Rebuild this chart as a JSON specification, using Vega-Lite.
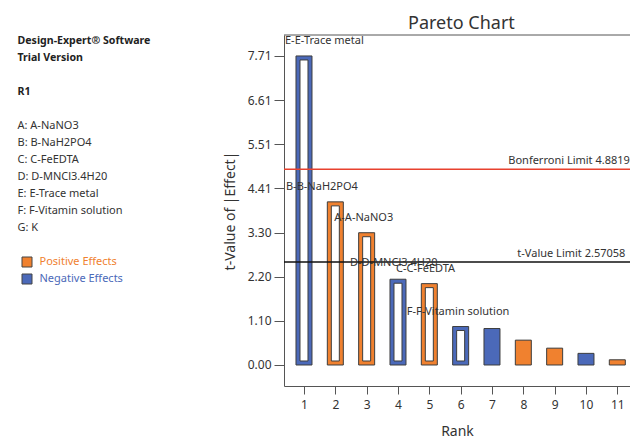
{
  "$schema": "https://vega.github.io/schema/vega-lite/v6.json",
  "padding": {"top": 14, "left": 0, "right": 0, "bottom": 0},
  "title": {"text": "Pareto Chart", "anchor": "start", "dx": 408, "fontSize": 18, "font": "Noto Sans", "fontWeight": "normal", "color": "#333333", "offset": 2},
  "spacing": 0,
  "config": {"font": "Noto Sans", "view": {"stroke": null}, "axis": {"grid": false}},
  "resolve": {"scale": {"x": "independent", "y": "independent", "color": "independent", "fill": "independent"}},
  "datasets": {
    "notes": [
      {"line": 0, "text": "Design-Expert® Software", "kind": "head"},
      {"line": 1, "text": "Trial Version", "kind": "head"},
      {"line": 3, "text": "R1", "kind": "head"},
      {"line": 5, "text": "A: A-NaNO3", "kind": "factor"},
      {"line": 6, "text": "B: B-NaH2PO4", "kind": "factor"},
      {"line": 7, "text": "C: C-FeEDTA", "kind": "factor"},
      {"line": 8, "text": "D: D-MNCl3.4H20", "kind": "factor"},
      {"line": 9, "text": "E: E-Trace metal", "kind": "factor"},
      {"line": 10, "text": "F: F-Vitamin solution", "kind": "factor"},
      {"line": 11, "text": "G: K", "kind": "factor"}
    ],
    "legend": [
      {"line": 13, "text": "Positive Effects", "effect": "Positive"},
      {"line": 14, "text": "Negative Effects", "effect": "Negative"}
    ],
    "bars": [
      {"rank": 1, "t": 7.71, "effect": "Negative", "term": "E-E-Trace metal"},
      {"rank": 2, "t": 4.07, "effect": "Positive", "term": "B-B-NaH2PO4"},
      {"rank": 3, "t": 3.30, "effect": "Positive", "term": "A-A-NaNO3"},
      {"rank": 4, "t": 2.14, "effect": "Negative", "term": "D-D-MNCl3.4H20"},
      {"rank": 5, "t": 2.03, "effect": "Positive", "term": "C-C-FeEDTA"},
      {"rank": 6, "t": 0.96, "effect": "Negative", "term": "F-F-Vitamin solution"},
      {"rank": 7, "t": 0.91, "effect": "Negative", "term": null},
      {"rank": 8, "t": 0.62, "effect": "Positive", "term": null},
      {"rank": 9, "t": 0.42, "effect": "Positive", "term": null},
      {"rank": 10, "t": 0.29, "effect": "Negative", "term": null},
      {"rank": 11, "t": 0.13, "effect": "Positive", "term": null}
    ],
    "termLabels": [
      {"term": "E-E-Trace metal", "atRank": 0.394, "atT": 8.08},
      {"term": "B-B-NaH2PO4", "atRank": 0.425, "atT": 4.44},
      {"term": "A-A-NaNO3", "atRank": 1.967, "atT": 3.675},
      {"term": "D-D-MNCl3.4H20", "atRank": 2.468, "atT": 2.537},
      {"term": "C-C-FeEDTA", "atRank": 3.936, "atT": 2.395},
      {"term": "F-F-Vitamin solution", "atRank": 4.278, "atT": 1.33}
    ],
    "limits": [
      {"limit": "Bonferroni Limit", "value": 4.88198, "label": "Bonferroni Limit 4.88198", "atRank": 7.52},
      {"limit": "t-Value Limit", "value": 2.57058, "label": "t-Value Limit 2.57058", "atRank": 7.81}
    ]
  },
  "hconcat": [
    {
      "width": 223,
      "height": 351,
      "layer": [
        {
          "data": {"name": "notes"},
          "transform": [{"filter": "datum.kind == 'head'"}],
          "mark": {"type": "text", "align": "left", "baseline": "middle", "fontSize": 10.6, "fontWeight": "bold", "color": "#222222"},
          "encoding": {
            "x": {"datum": 0, "type": "quantitative", "scale": {"domain": [-1.75, 20.55], "nice": false, "zero": false}, "axis": null},
            "y": {"field": "line", "type": "quantitative", "scale": {"domain": [-0.353, 20.294], "reverse": true, "nice": false, "zero": false}, "axis": null},
            "text": {"field": "text"}
          }
        },
        {
          "data": {"name": "notes"},
          "transform": [{"filter": "datum.kind == 'factor'"}],
          "mark": {"type": "text", "align": "left", "baseline": "middle", "fontSize": 11, "color": "#333333"},
          "encoding": {
            "x": {"datum": 0, "type": "quantitative"},
            "y": {"field": "line", "type": "quantitative"},
            "text": {"field": "text"}
          }
        },
        {
          "data": {"name": "legend"},
          "mark": {"type": "square", "size": 100, "filled": true, "stroke": "#444444", "strokeWidth": 1, "opacity": 1},
          "encoding": {
            "x": {"datum": 0.95, "type": "quantitative"},
            "y": {"field": "line", "type": "quantitative"},
            "color": {"field": "effect", "type": "nominal", "scale": {"domain": ["Positive", "Negative"], "range": ["#f0812f", "#4b69b9"]}, "legend": null}
          }
        },
        {
          "data": {"name": "legend"},
          "mark": {"type": "text", "align": "left", "baseline": "middle", "fontSize": 11},
          "encoding": {
            "x": {"datum": 2.2, "type": "quantitative"},
            "y": {"field": "line", "type": "quantitative"},
            "text": {"field": "text"},
            "color": {"field": "effect", "type": "nominal", "scale": {"domain": ["Positive", "Negative"], "range": ["#f0883c", "#5b6fc5"]}, "legend": null}
          }
        }
      ]
    },
    {
      "width": 346,
      "height": 351,
      "layer": [
        {
          "data": {"name": "bars"},
          "mark": {"type": "bar", "width": 16, "stroke": "#3d3d3d", "strokeWidth": 1},
          "encoding": {
            "x": {
              "field": "rank", "type": "quantitative",
              "scale": {"domain": [0.362, 11.405], "nice": false, "zero": false, "padding": 0},
              "axis": {"values": [1, 2, 3, 4, 5, 6, 7, 8, 9, 10, 11], "tickCount": 20, "format": "d", "labelOverlap": false, "labelFlush": false, "tickSize": 8, "labelPadding": 5, "domainColor": "#555555", "tickColor": "#555555", "labelFontSize": 12, "labelColor": "#333333", "title": "Rank", "titleFontSize": 14, "titleFontWeight": "normal", "titleColor": "#333333", "titlePadding": 14}
            },
            "y": {
              "field": "t", "type": "quantitative",
              "scale": {"domain": [-0.524, 8.233], "nice": false, "zero": false, "padding": 0},
              "axis": {"values": [0, 1.1014, 2.2028, 3.3042, 4.4057, 5.5071, 6.6085, 7.7099], "tickCount": 20, "format": ".2f", "labelOverlap": false, "labelFlush": false, "tickSize": 10, "labelPadding": 3, "minExtent": 37, "maxExtent": 37, "domainColor": "#555555", "tickColor": "#555555", "labelFontSize": 12, "labelColor": "#333333", "title": "t-Value of |Effect|", "titleFontSize": 14, "titleFontWeight": "normal", "titleColor": "#333333", "titlePadding": 10}
            },
            "y2": {"datum": 0},
            "fill": {"field": "effect", "type": "nominal", "scale": {"domain": ["Positive", "Negative"], "range": ["#f0812f", "#4b69b9"]}, "legend": null}
          }
        },
        {
          "data": {"name": "bars"},
          "transform": [{"filter": "datum.term != null"}],
          "mark": {"type": "bar", "width": 8, "fill": "#ffffff", "stroke": "#3d3d3d", "strokeWidth": 1, "yOffset": 4, "y2Offset": -4},
          "encoding": {
            "x": {"field": "rank", "type": "quantitative"},
            "y": {"field": "t", "type": "quantitative"},
            "y2": {"datum": 0}
          }
        },
        {
          "data": {"name": "limits"},
          "mark": {"type": "rule", "strokeWidth": 1.6},
          "encoding": {
            "y": {"field": "value", "type": "quantitative"},
            "stroke": {"field": "limit", "type": "nominal", "scale": {"domain": ["Bonferroni Limit", "t-Value Limit"], "range": ["#e8412e", "#111111"]}, "legend": null}
          }
        },
        {
          "data": {"name": "limits"},
          "mark": {"type": "text", "align": "left", "baseline": "bottom", "dy": -3, "fontSize": 11, "color": "#333333", "clip": true},
          "encoding": {
            "x": {"field": "atRank", "type": "quantitative"},
            "y": {"field": "value", "type": "quantitative"},
            "text": {"field": "label"}
          }
        },
        {
          "data": {"name": "termLabels"},
          "mark": {"type": "text", "align": "left", "baseline": "middle", "fontSize": 11, "color": "#333333"},
          "encoding": {
            "x": {"field": "atRank", "type": "quantitative"},
            "y": {"field": "atT", "type": "quantitative"},
            "text": {"field": "term"}
          }
        },
        {
          "data": {"values": [{}]},
          "mark": {"type": "rule", "stroke": "#555555", "strokeWidth": 1},
          "encoding": {
            "y": {"datum": 8.233, "type": "quantitative"}
          }
        }
      ]
    }
  ]
}
